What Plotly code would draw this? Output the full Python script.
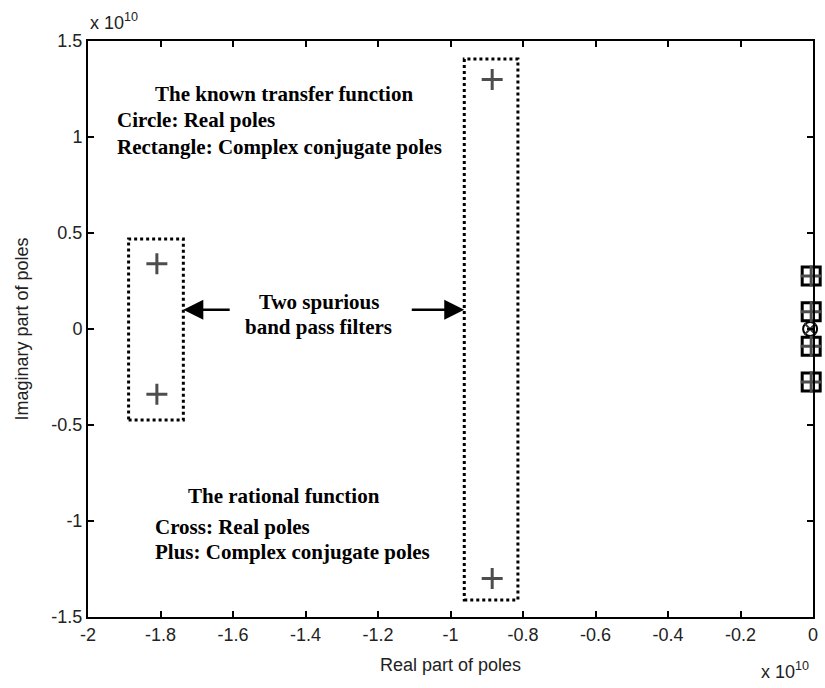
import plotly.graph_objects as go

# Poles of the fitted rational function (complex conjugate pairs -> "+")
rat_complex_re = [-1.81e10, -1.81e10, -0.885e10, -0.885e10,
                  -0.005e10, -0.005e10, -0.005e10, -0.005e10]
rat_complex_im = [0.34e10, -0.34e10, 1.30e10, -1.30e10,
                  0.276e10, 0.09e10, -0.09e10, -0.276e10]
# Real poles of the fitted rational function ("x")
rat_real_re = [-0.008e10]
rat_real_im = [0.0]
# Poles of the known transfer function
known_complex_re = [-0.005e10, -0.005e10, -0.005e10, -0.005e10]
known_complex_im = [0.276e10, 0.09e10, -0.09e10, -0.276e10]
known_real_re = [-0.008e10]
known_real_im = [0.0]

x_ticks = [-2e10 + i * 0.2e10 for i in range(11)]
x_tick_text = ["-2", "-1.8", "-1.6", "-1.4", "-1.2", "-1", "-0.8", "-0.6", "-0.4", "-0.2", "0"]
y_ticks = [-1.5e10, -1e10, -0.5e10, 0, 0.5e10, 1e10, 1.5e10]
y_tick_text = ["-1.5", "-1", "-0.5", "0", "0.5", "1", "1.5"]

# Boxes around the spurious band-pass pole pairs
box_left = dict(x0=-1.888e10, x1=-1.737e10, y0=-0.474e10, y1=0.469e10)
box_mid = dict(x0=-0.962e10, x1=-0.814e10, y0=-1.411e10, y1=1.406e10)

fig = go.Figure()
fig.add_trace(go.Scatter(x=known_complex_re, y=known_complex_im, mode="markers",
                         marker=dict(symbol="square-open", size=18, color="black",
                                     line=dict(width=3, color="black")),
                         showlegend=False))
fig.add_trace(go.Scatter(x=known_real_re, y=known_real_im, mode="markers",
                         marker=dict(symbol="circle-open", size=14, color="black",
                                     line=dict(width=2, color="black")),
                         showlegend=False))
fig.add_trace(go.Scatter(x=rat_complex_re, y=rat_complex_im, mode="markers",
                         marker=dict(symbol="cross-thin-open", size=15, color="#4d4d4d",
                                     line=dict(width=3, color="#4d4d4d")),
                         showlegend=False))
fig.add_trace(go.Scatter(x=rat_real_re, y=rat_real_im, mode="markers",
                         marker=dict(symbol="x-thin-open", size=11, color="#333333",
                                     line=dict(width=2, color="#333333")),
                         showlegend=False))

for b in (box_left, box_mid):
    fig.add_shape(type="rect", xref="x", yref="y", **b,
                  line=dict(color="black", width=3, dash="dot"))

serif = "Liberation Serif, Times New Roman, serif"
sans = "Liberation Sans, Arial, sans-serif"
ann = []


def txt(x, y, text, xanchor="center", size=21):
    ann.append(dict(x=x, y=y, xref="x", yref="y", text=text, showarrow=False,
                    xanchor=xanchor, yanchor="middle",
                    font=dict(family=serif, size=size, color="black")))


txt(-1.458e10, 1.225e10, "<b>The known transfer function</b>")
txt(-1.925e10, 1.09e10, "<b>Circle: Real poles</b>", "left")
txt(-1.925e10, 0.95e10, "<b>Rectangle: Complex conjugate poles</b>", "left")
txt(-1.364e10, 0.14e10, "<b>Two spurious</b>")
txt(-1.364e10, 0.01e10, "<b>band pass filters</b>")
txt(-1.46e10, -0.87e10, "<b>The rational function</b>")
txt(-1.82e10, -1.03e10, "<b>Cross: Real poles</b>", "left")
txt(-1.82e10, -1.16e10, "<b>Plus: Complex conjugate poles</b>", "left")

# Arrows pointing at the two boxes
for head, tail in ((-1.737e10, -1.605e10), (-0.962e10, -1.111e10)):
    ann.append(dict(x=head, y=0.1e10, ax=tail, ay=0.1e10, xref="x", yref="y",
                    axref="x", ayref="y", showarrow=True, arrowhead=2,
                    arrowsize=1.6, arrowwidth=2.5, arrowcolor="black", text=""))

# Exponent labels
ann.append(dict(x=0.0, y=1.01, xref="paper", yref="paper", xanchor="left", yanchor="bottom",
                text="x 10<sup>10</sup>", showarrow=False,
                font=dict(family=sans, size=18, color="#222")))
ann.append(dict(x=0.997, y=-0.117, xref="paper", yref="paper", xanchor="right", yanchor="bottom",
                text="x 10<sup>10</sup>", showarrow=False,
                font=dict(family=sans, size=18, color="#222")))

fig.update_layout(
    width=825, height=688,
    margin=dict(l=88, r=7, t=41, b=71),
    paper_bgcolor="white", plot_bgcolor="white",
    annotations=ann,
    font=dict(family=sans, size=18, color="#222"),
    xaxis=dict(range=[-2e10, 0], tickvals=x_ticks, ticktext=x_tick_text,
               ticks="inside", ticklen=6, tickwidth=1.5, tickcolor="black",
               showline=True, linecolor="black", linewidth=2, mirror="ticks",
               showgrid=False, zeroline=False,
               title=dict(text="Real part of poles", standoff=15,
                          font=dict(family=sans, size=18, color="#222"))),
    yaxis=dict(range=[-1.5e10, 1.5e10], tickvals=y_ticks, ticktext=y_tick_text,
               ticks="inside", ticklen=6, tickwidth=1.5, tickcolor="black",
               showline=True, linecolor="black", linewidth=2, mirror="ticks",
               showgrid=False, zeroline=False,
               title=dict(text="Imaginary part of poles", standoff=18,
                          font=dict(family=sans, size=18, color="#222"))),
)
fig.update_traces(cliponaxis=False)

fig.write_html("out.html")
